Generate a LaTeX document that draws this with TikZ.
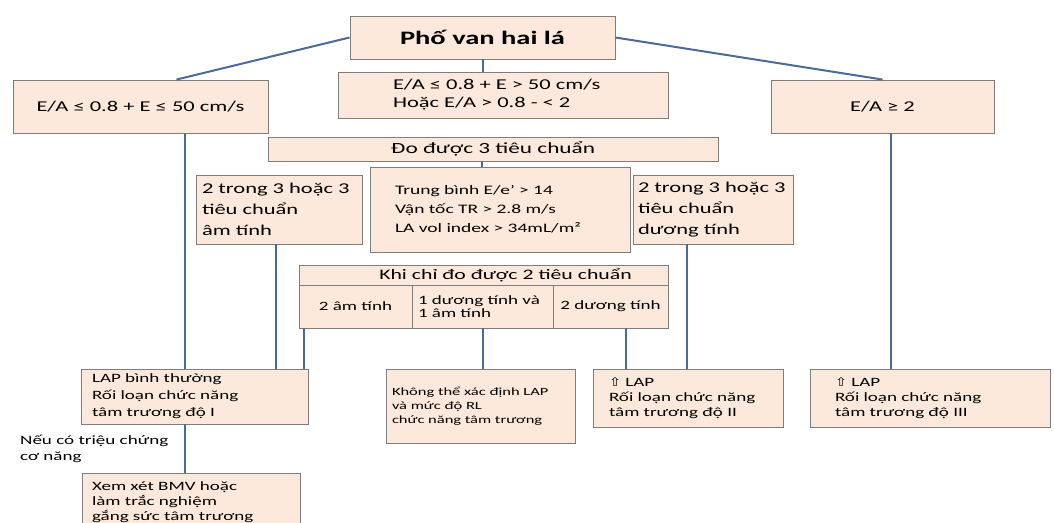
\documentclass[tikz,border=0pt]{standalone}
\usepackage{fontspec}
\setmainfont{Carlito}[FakeStretch=1.5]
\newfontfamily\arrowfont{DejaVu Sans}[FakeStretch=1.2]
\usetikzlibrary{shadows}
\definecolor{boxfill}{RGB}{252,233,219}
\definecolor{boxedge}{RGB}{125,125,125}
\definecolor{linkblue}{RGB}{76,106,152}
\newcommand{\fsz}[2]{\fontsize{#1}{#2}\selectfont}
\tikzset{
  box/.style={draw=boxedge, fill=boxfill, line width=0.9pt, inner ysep=0pt,
    drop shadow={shadow xshift=1.2pt, shadow yshift=-1.2pt, opacity=0.3, fill=black}},
  link/.style={draw=linkblue, line width=2pt},
}

\begin{document}
\begin{tikzpicture}[x=1pt,y=-1pt]
\useasboundingbox (0,0) rectangle (1054,522);
\node[box, minimum width=265pt, minimum height=43pt, font=\fsz{19}{22}\bfseries] (root) at (482.5,37.5) {Phố van hai lá};
\node[box, text width=220pt, inner xsep=55pt, minimum height=46pt, align=left, font=\fsz{15}{18}] (midc) at (503,95) {E/A ≤ 0.8 + E > 50 cm/s\\Hoặc E/A > 0.8 - < 2};
\node[box, minimum width=255pt, minimum height=53pt, font=\fsz{15}{18}] (leftc) at (140.5,106.5) {E/A ≤ 0.8 + E ≤ 50 cm/s};
\node[box, minimum width=223pt, minimum height=53pt, font=\fsz{15}{18}] (rightc) at (882.5,106.5) {E/A ≥ 2};
\node[box, minimum width=450pt, minimum height=24pt, font=\fsz{15.5}{18}] (do3) at (493,149) {Đo được 3 tiêu chuẩn};
\node[box, text width=210pt, inner xsep=25pt, minimum height=85pt, align=left, font=\fsz{13}{19}] (crit) at (500,209.5) {Trung bình E/e' > 14\\Vận tốc TR > 2.8 m/s\\LA vol index > 34mL/m²};
\node[box, text width=154pt, inner xsep=6pt, minimum height=69pt, align=left, font=\fsz{15}{21}] (neg3) at (279,209.5) {2 trong 3 hoặc 3\\tiêu chuẩn\\âm tính};
\node[box, text width=150pt, inner xsep=5pt, minimum height=69pt, align=left, font=\fsz{15}{21}] (pos3) at (713,209.5) {2 trong 3 hoặc 3\\tiêu chuẩn\\dương tính};
\node[box, minimum width=369pt, minimum height=20pt, font=\fsz{14.5}{17}] (khi2) at (483.5,275) {\hspace*{44pt}Khi chỉ đo được 2 tiêu chuẩn};
\node[box, minimum width=113pt, minimum height=43pt, font=\fsz{12.7}{15}] (c1) at (355.5,306.5) {2 âm tính};
\node[box, text width=129pt, inner xsep=6pt, minimum height=43pt, align=left, font=\fsz{12.7}{13}] (c2) at (482.5,306.5) {1 dương tính và\\1 âm tính};
\node[box, minimum width=115pt, minimum height=43pt, font=\fsz{12.7}{15}] (c3) at (610.5,306.5) {2 dương tính};
\node[box, text width=205pt, inner xsep=11pt, minimum height=55pt, align=left, font=\fsz{12.7}{17}] (lap1) at (194.5,396.5) {LAP bình thường\\Rối loạn chức năng\\tâm trương độ I};
\node[box, text width=177pt, inner xsep=6pt, minimum height=74pt, align=left, font=\fsz{11}{14}] (nolap) at (480.5,406) {Không thể xác định LAP\\và mức độ RL\\chức năng tâm trương};
\node[box, text width=158pt, inner xsep=16pt, minimum height=58pt, align=left, font=\fsz{12.7}{15}] (lap2) at (688,398) {{\arrowfont\fsz{12}{15}⇧} LAP\\Rối loạn chức năng\\tâm trương độ II};
\node[box, text width=190pt, inner xsep=25pt, minimum height=58pt, align=left, font=\fsz{12.7}{15}] (lap3) at (930,398) {{\arrowfont\fsz{12}{15}⇧} LAP\\Rối loạn chức năng\\tâm trương độ III};
\node[anchor=west, align=left, inner sep=0pt, font=\fsz{12.7}{16}] (note) at (20,449) {Nếu có triệu chứng\\cơ năng};
\node[box, text width=198pt, inner xsep=10pt, minimum height=58pt, align=left, font=\fsz{12.7}{15}] (xem) at (191,502) {Xem xét BMV hoặc\\làm trắc nghiệm\\gắng sức tâm trương};
%links
\draw[link] (root.west) -- ([xshift=36pt]leftc.north);
\draw[link] (root.east) -- (rightc.north);
\draw[link] (root.south) -- (root.south |- midc.north);
\draw[link] ([xshift=-11pt]do3.south) -- ([xshift=-11pt]do3.south |- crit.north);
\draw[link] ([xshift=-10pt]lap1.north) -- ([xshift=-10pt]lap1.north |- leftc.south);
\draw[link] ([xshift=-3pt]neg3.south) -- ([xshift=-3pt]neg3.south |- lap1.north);
\draw[link] ([xshift=-4pt]lap1.north east) -- ([xshift=-4pt]lap1.north east |- c1.south);
\draw[link] (c2.south) -- (c2.south |- nolap.north);
\draw[link] ([xshift=15pt]c3.south) -- ([xshift=15pt]c3.south |- lap2.north);
\draw[link] ([xshift=-26pt]pos3.south) -- ([xshift=-26pt]pos3.south |- lap2.north);
\draw[link] ([xshift=8pt]rightc.south) -- ([xshift=8pt]rightc.south |- lap3.north);
\draw[link] ([xshift=-10pt]lap1.south) -- ([xshift=-10pt]lap1.south |- xem.north);
\end{tikzpicture}
\end{document}
